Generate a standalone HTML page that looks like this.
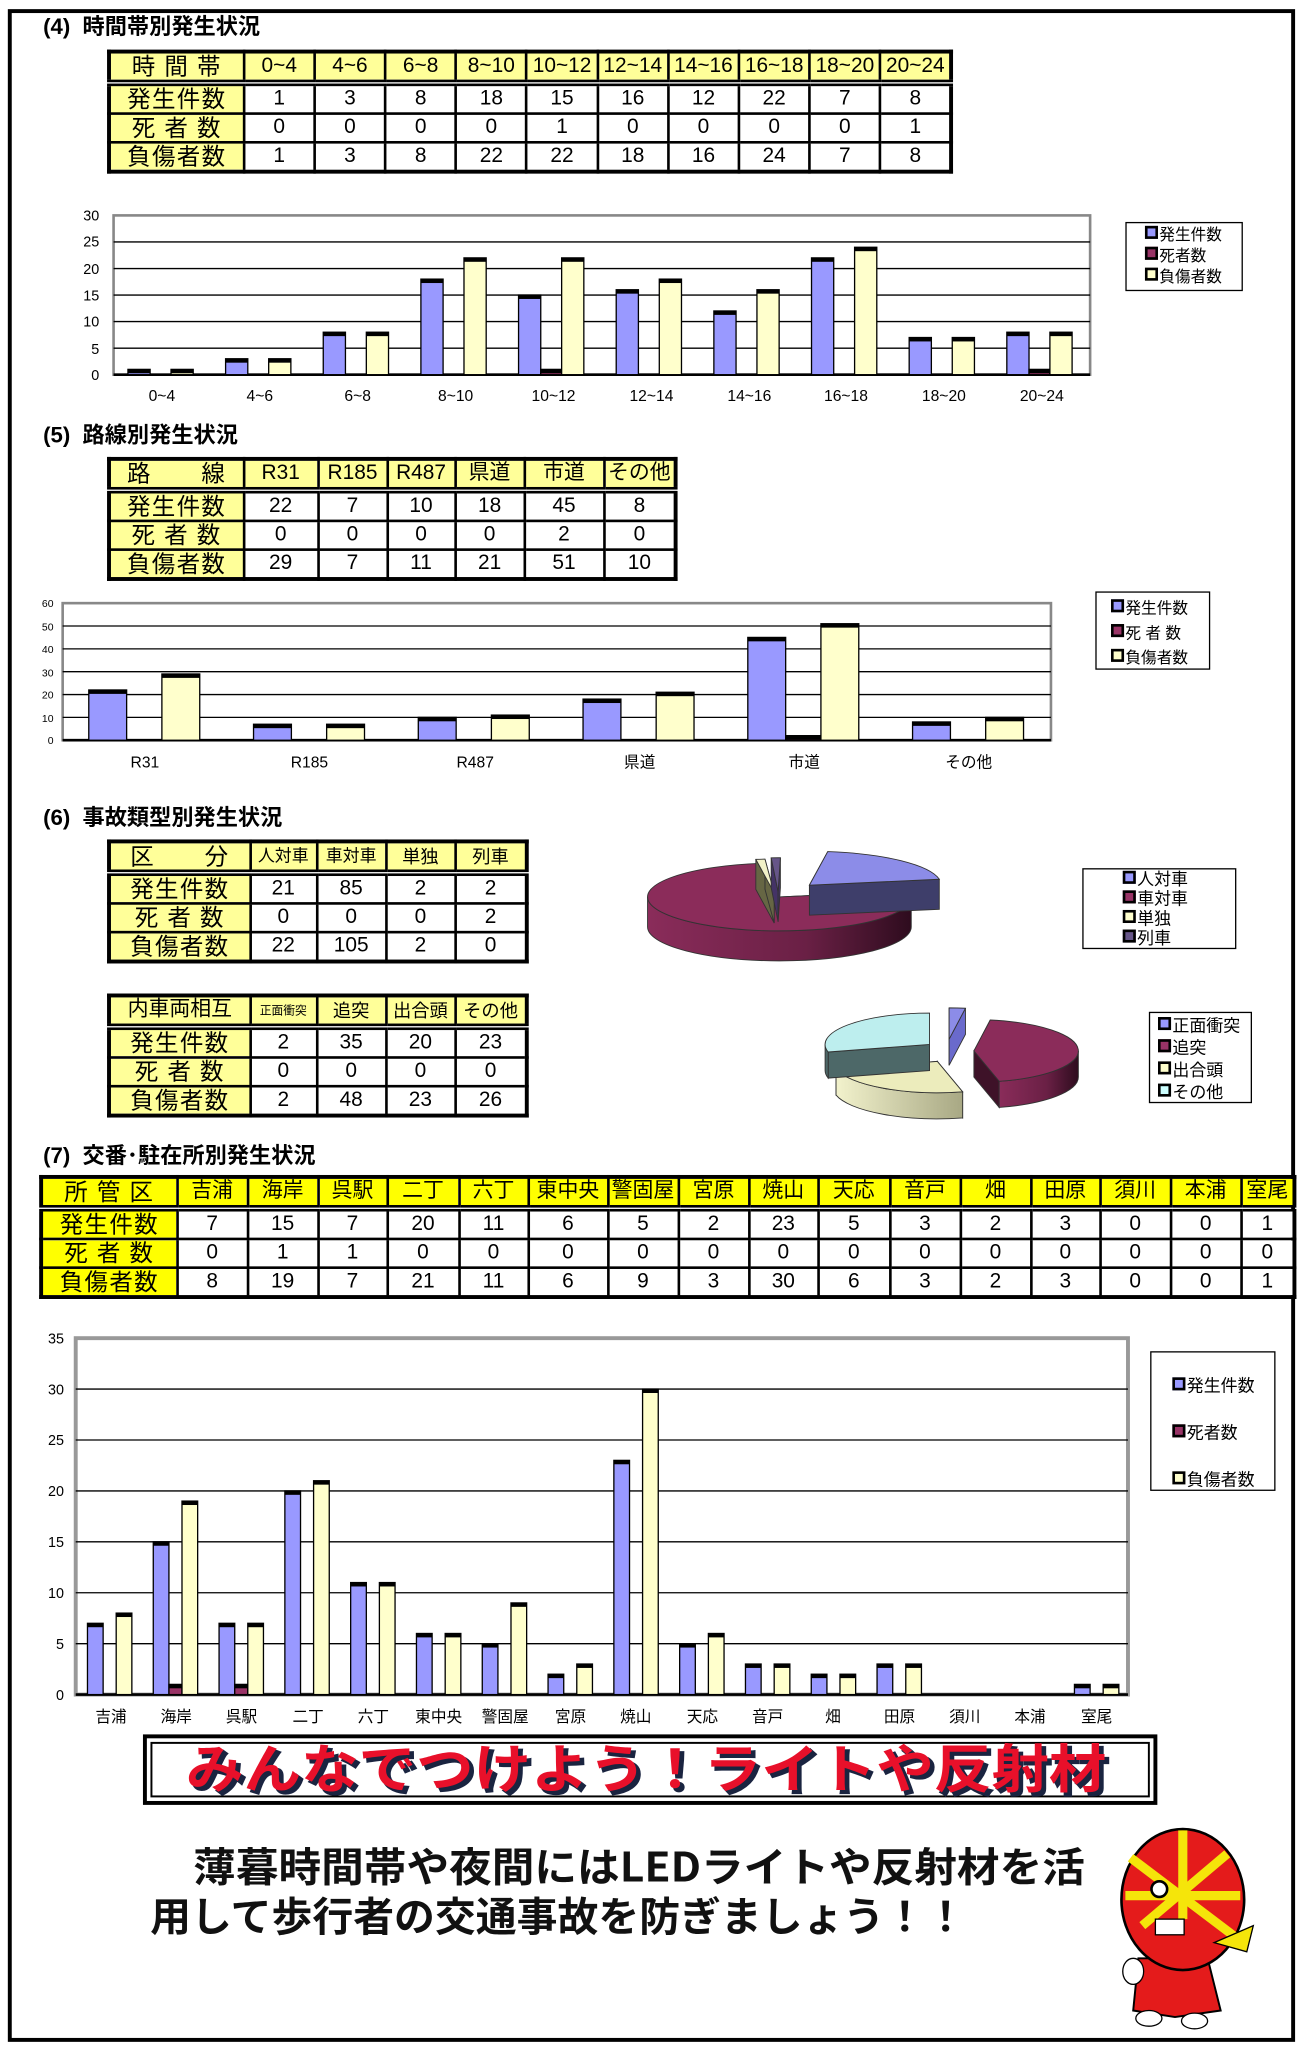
<!DOCTYPE html>
<html><head><meta charset="utf-8">
<style>
html,body{margin:0;padding:0;background:#fff;}
body{width:1299px;height:2049px;overflow:hidden;position:relative;}
#w{position:absolute;left:0;top:0;width:995px;height:1569px;transform:scale(1.30553);transform-origin:0 0;font-family:"Liberation Sans","Noto Sans CJK JP",sans-serif;}
.frame{position:absolute;left:6px;top:7px;width:980px;height:1551px;border:3px solid #000;}
.h{position:absolute;font-weight:bold;font-size:17px;line-height:20px;white-space:nowrap;}
table.t{position:absolute;border-collapse:collapse;border:3px solid #000;table-layout:fixed;}
table.t td{border:2px solid #000;background:#fff;text-align:center;padding:0;font-size:16px;line-height:18px;height:20px;white-space:nowrap;overflow:hidden;}
table.t td.y{background:#ffff99;}
table.t td.k{background:#ffff99;font-size:18px;letter-spacing:1px;}
table.t tr.hd td{border-bottom:5px double #000;background:#ffff99;}
table.t2 td.y{background:#ffff00;}
table.t2 td.k{background:#ffff00;}
table.t2 tr.hd td{background:#ffff00;}
svg{position:absolute;left:0;top:0;}
svg text{font-family:"Liberation Sans","Noto Sans CJK JP",sans-serif;}
.lg{position:absolute;border:1px solid #000;background:#fff;font-size:12px;line-height:16px;}
.lg span{display:inline-block;width:6px;height:6px;border:2px solid #000;margin-right:1px;vertical-align:1px;}
</style></head><body><div id="w">
<div class="frame"></div>

<div class="h" style="left:33px;top:11px;">(4)&nbsp; 時間帯別発生状況</div>
<table class="t" style="left:82px;top:38px;width:648px;">
<colgroup><col style="width:103px"><col span="10" style="width:54px"></colgroup>
<tr class="hd"><td class="k">時 間 帯</td><td class="y">0~4</td><td class="y">4~6</td><td class="y">6~8</td><td class="y">8~10</td><td class="y">10~12</td><td class="y">12~14</td><td class="y">14~16</td><td class="y">16~18</td><td class="y">18~20</td><td class="y">20~24</td></tr>
<tr><td class="k">発生件数</td><td>1</td><td>3</td><td>8</td><td>18</td><td>15</td><td>16</td><td>12</td><td>22</td><td>7</td><td>8</td></tr>
<tr><td class="k">死 者 数</td><td>0</td><td>0</td><td>0</td><td>0</td><td>1</td><td>0</td><td>0</td><td>0</td><td>0</td><td>1</td></tr>
<tr><td class="k">負傷者数</td><td>1</td><td>3</td><td>8</td><td>22</td><td>22</td><td>18</td><td>16</td><td>24</td><td>7</td><td>8</td></tr>
</table>

<div class="h" style="left:33px;top:324px;">(5)&nbsp; 路線別発生状況</div>
<table class="t" style="left:82px;top:350px;width:434px;">
<colgroup><col style="width:103px"><col style="width:57px"><col style="width:53px"><col style="width:52px"><col style="width:53px"><col style="width:61px"><col style="width:55px"></colgroup>
<tr class="hd"><td class="k">路　　線</td><td class="y">R31</td><td class="y">R185</td><td class="y">R487</td><td class="y">県道</td><td class="y">市道</td><td class="y">その他</td></tr>
<tr><td class="k">発生件数</td><td>22</td><td>7</td><td>10</td><td>18</td><td>45</td><td>8</td></tr>
<tr><td class="k">死 者 数</td><td>0</td><td>0</td><td>0</td><td>0</td><td>2</td><td>0</td></tr>
<tr><td class="k">負傷者数</td><td>29</td><td>7</td><td>11</td><td>21</td><td>51</td><td>10</td></tr>
</table>

<div class="h" style="left:33px;top:617px;">(6)&nbsp; 事故類型別発生状況</div>
<table class="t" style="left:82px;top:643px;width:320px;">
<colgroup><col style="width:108px"><col style="width:51px"><col style="width:53px"><col style="width:53px"><col style="width:55px"></colgroup>
<tr class="hd"><td class="k">区　　分</td><td class="y" style="font-size:13px">人対車</td><td class="y" style="font-size:13px">車対車</td><td class="y" style="font-size:14px">単独</td><td class="y" style="font-size:14px">列車</td></tr>
<tr><td class="k">発生件数</td><td>21</td><td>85</td><td>2</td><td>2</td></tr>
<tr><td class="k">死 者 数</td><td>0</td><td>0</td><td>0</td><td>2</td></tr>
<tr><td class="k">負傷者数</td><td>22</td><td>105</td><td>2</td><td>0</td></tr>
</table>
<table class="t" style="left:82px;top:761px;width:320px;">
<colgroup><col style="width:108px"><col style="width:51px"><col style="width:53px"><col style="width:53px"><col style="width:55px"></colgroup>
<tr class="hd"><td class="k" style="font-size:16px;letter-spacing:0">内車両相互</td><td class="y" style="font-size:9px">正面衝突</td><td class="y" style="font-size:14px">追突</td><td class="y" style="font-size:14px">出合頭</td><td class="y" style="font-size:14px">その他</td></tr>
<tr><td class="k">発生件数</td><td>2</td><td>35</td><td>20</td><td>23</td></tr>
<tr><td class="k">死 者 数</td><td>0</td><td>0</td><td>0</td><td>0</td></tr>
<tr><td class="k">負傷者数</td><td>2</td><td>48</td><td>23</td><td>26</td></tr>
</table>

<div class="h" style="left:33px;top:876px;">(7)&nbsp; 交番･駐在所別発生状況</div>
<table class="t t2" style="left:30px;top:900px;width:960px;">
<colgroup><col style="width:104px"><col style="width:54px"><col style="width:54px"><col style="width:53px"><col style="width:55px"><col style="width:53px"><col style="width:61px"><col style="width:54px"><col style="width:54px"><col style="width:53px"><col style="width:55px"><col style="width:54px"><col style="width:54px"><col style="width:53px"><col style="width:54px"><col style="width:54px"><col style="width:41px"></colgroup>
<tr class="hd"><td class="k">所 管 区</td><td class="y">吉浦</td><td class="y">海岸</td><td class="y">呉駅</td><td class="y">二丁</td><td class="y">六丁</td><td class="y">東中央</td><td class="y">警固屋</td><td class="y">宮原</td><td class="y">焼山</td><td class="y">天応</td><td class="y">音戸</td><td class="y">畑</td><td class="y">田原</td><td class="y">須川</td><td class="y">本浦</td><td class="y">室尾</td></tr>
<tr><td class="k">発生件数</td><td>7</td><td>15</td><td>7</td><td>20</td><td>11</td><td>6</td><td>5</td><td>2</td><td>23</td><td>5</td><td>3</td><td>2</td><td>3</td><td>0</td><td>0</td><td>1</td></tr>
<tr><td class="k">死 者 数</td><td>0</td><td>1</td><td>1</td><td>0</td><td>0</td><td>0</td><td>0</td><td>0</td><td>0</td><td>0</td><td>0</td><td>0</td><td>0</td><td>0</td><td>0</td><td>0</td></tr>
<tr><td class="k">負傷者数</td><td>8</td><td>19</td><td>7</td><td>21</td><td>11</td><td>6</td><td>9</td><td>3</td><td>30</td><td>6</td><td>3</td><td>2</td><td>3</td><td>0</td><td>0</td><td>1</td></tr>
</table>

<svg id="sv" width="995" height="1569" viewBox="0 0 995 1569">
<defs>
<linearGradient id="gm" x1="0" x2="1"><stop offset="0" stop-color="#8a2c5a"/><stop offset="0.6" stop-color="#6a2045"/><stop offset="1" stop-color="#2e0c1e"/></linearGradient>
<linearGradient id="gc" x1="0" x2="1"><stop offset="0" stop-color="#f2f2cc"/><stop offset="1" stop-color="#a8a884"/></linearGradient>
</defs>
<g font-size="11" text-anchor="end">
<rect x="87" y="165" width="748" height="122" fill="#fff" stroke="#888" stroke-width="2"/>
<g stroke="#000" stroke-width="1"><line x1="87" y1="185.3" x2="835" y2="185.3"/><line x1="87" y1="205.7" x2="835" y2="205.7"/><line x1="87" y1="226" x2="835" y2="226"/><line x1="87" y1="246.3" x2="835" y2="246.3"/><line x1="87" y1="266.7" x2="835" y2="266.7"/><line x1="87" y1="287" x2="835" y2="287" stroke-width="2"/></g>
<text x="76" y="169">30</text><text x="76" y="189">25</text><text x="76" y="210">20</text><text x="76" y="230">15</text><text x="76" y="250">10</text><text x="76" y="271">5</text><text x="76" y="291">0</text>
</g>
<g font-size="12" text-anchor="middle">
<text x="124" y="307">0~4</text><text x="199" y="307">4~6</text><text x="274" y="307">6~8</text><text x="349" y="307">8~10</text><text x="424" y="307">10~12</text><text x="499" y="307">12~14</text><text x="574" y="307">14~16</text><text x="648" y="307">16~18</text><text x="723" y="307">18~20</text><text x="798" y="307">20~24</text>
</g>
<rect x="48" y="462" width="757" height="105" fill="#fff" stroke="#888" stroke-width="2"/>
<g stroke="#000" stroke-width="1"><line x1="48" y1="479.5" x2="805" y2="479.5"/><line x1="48" y1="497" x2="805" y2="497"/><line x1="48" y1="514.5" x2="805" y2="514.5"/><line x1="48" y1="532" x2="805" y2="532"/><line x1="48" y1="549.5" x2="805" y2="549.5"/><line x1="48" y1="567" x2="805" y2="567" stroke-width="2"/></g>
<g font-size="8" text-anchor="end"><text x="41" y="465">60</text><text x="41" y="483">50</text><text x="41" y="500">40</text><text x="41" y="518">30</text><text x="41" y="535">20</text><text x="41" y="553">10</text><text x="41" y="570">0</text></g>
<g font-size="12" text-anchor="middle"><text x="111" y="588">R31</text><text x="237" y="588">R185</text><text x="364" y="588">R487</text><text x="490" y="588">県道</text><text x="616" y="588">市道</text><text x="742" y="588">その他</text></g>
<rect x="58" y="1025" width="806" height="273" fill="#fff" stroke="#999" stroke-width="3"/>
<g stroke="#000" stroke-width="1"><line x1="58" y1="1064" x2="864" y2="1064"/><line x1="58" y1="1103" x2="864" y2="1103"/><line x1="58" y1="1142" x2="864" y2="1142"/><line x1="58" y1="1181" x2="864" y2="1181"/><line x1="58" y1="1220" x2="864" y2="1220"/><line x1="58" y1="1259" x2="864" y2="1259"/><line x1="58" y1="1298" x2="864" y2="1298" stroke-width="2"/></g>
<g font-size="11" text-anchor="end"><text x="49" y="1029">35</text><text x="49" y="1068">30</text><text x="49" y="1107">25</text><text x="49" y="1146">20</text><text x="49" y="1185">15</text><text x="49" y="1224">10</text><text x="49" y="1263">5</text><text x="49" y="1302">0</text></g>
<g font-size="12" text-anchor="middle"><text x="85" y="1319">吉浦</text><text x="135" y="1319">海岸</text><text x="185" y="1319">呉駅</text><text x="236" y="1319">二丁</text><text x="286" y="1319">六丁</text><text x="336" y="1319">東中央</text><text x="387" y="1319">警固屋</text><text x="437" y="1319">宮原</text><text x="487" y="1319">焼山</text><text x="538" y="1319">天応</text><text x="588" y="1319">音戸</text><text x="638" y="1319">畑</text><text x="689" y="1319">田原</text><text x="739" y="1319">須川</text><text x="789" y="1319">本浦</text><text x="840" y="1319">室尾</text></g>
<g id="bars"></g>
<g id="pies"></g>
<rect x="111" y="1330" width="774" height="51" fill="#fff" stroke="#000" stroke-width="3"/>
<rect x="116" y="1335" width="764" height="41" fill="none" stroke="#000" stroke-width="1.5"/>
<text x="498" y="1372" text-anchor="middle" font-size="40" font-weight="bold" fill="#1a2440" stroke="#1a2440" stroke-width="1" textLength="705" lengthAdjust="spacingAndGlyphs" style="font-family:'Noto Sans CJK JP',sans-serif">みんなでつけよう！ライトや反射材</text>
<text x="495" y="1369" text-anchor="middle" font-size="40" font-weight="bold" fill="#e8102a" textLength="705" lengthAdjust="spacingAndGlyphs" style="font-family:'Noto Sans CJK JP',sans-serif">みんなでつけよう！ライトや反射材</text>
<text x="148" y="1441" font-size="31" font-weight="bold" fill="#111" textLength="683" lengthAdjust="spacingAndGlyphs" style="font-family:'Noto Sans CJK JP',sans-serif">薄暮時間帯や夜間にはLEDライトや反射材を活</text>
<text x="115" y="1479" font-size="31" font-weight="bold" fill="#111" textLength="625" lengthAdjust="spacingAndGlyphs" style="font-family:'Noto Sans CJK JP',sans-serif">用して歩行者の交通事故を防ぎましょう！！</text>
<g>
<path d="M872 1500 L868 1540 L900 1545 L935 1540 L925 1500 Z" fill="#e41b1b" stroke="#000" stroke-width="1.5"/>
<ellipse cx="906" cy="1455" rx="47" ry="54" fill="#e41b1b" stroke="#000" stroke-width="2"/>
<g stroke="#f5e50a" stroke-width="7" fill="none"><line x1="866" y1="1423" x2="948" y2="1485"/><line x1="875" y1="1475" x2="940" y2="1420"/><line x1="906" y1="1402" x2="906" y2="1470"/><line x1="862" y1="1452" x2="950" y2="1452"/></g>
<circle cx="888" cy="1447" r="6" fill="#fff" stroke="#000" stroke-width="2"/>
<rect x="885" y="1470" width="22" height="12" fill="#fff" stroke="#000"/>
<path d="M930 1488 L960 1475 L955 1495 Z" fill="#f5e50a" stroke="#000"/>
<ellipse cx="868" cy="1510" rx="8" ry="10" fill="#fff" stroke="#000"/>
<ellipse cx="880" cy="1546" rx="10" ry="6" fill="#fff" stroke="#000"/><ellipse cx="915" cy="1548" rx="10" ry="6" fill="#fff" stroke="#000"/>
</g>
</svg>

<div class="lg" style="left:862px;top:170px;width:90px;height:53px;padding:1px 0 0 14px;box-sizing:border-box;"><span style="background:#9999ff"></span>発生件数<br><span style="background:#993366"></span>死者数<br><span style="background:#ffffcc"></span>負傷者数</div>
<div class="lg" style="left:839px;top:453px;width:88px;height:60px;padding:3px 0 0 11px;box-sizing:border-box;line-height:19px;"><span style="background:#9999ff"></span>発生件数<br><span style="background:#993366"></span>死 者 数<br><span style="background:#ffffcc"></span>負傷者数</div>
<div class="lg" style="left:829px;top:665px;width:118px;height:62px;padding:0 0 0 30px;box-sizing:border-box;line-height:15px;font-size:13px;"><span style="background:#9999ff"></span>人対車<br><span style="background:#993366"></span>車対車<br><span style="background:#ffffcc"></span>単独<br><span style="background:#665588"></span>列車</div>
<div class="lg" style="left:880px;top:775px;width:79px;height:70px;padding:1px 0 0 6px;box-sizing:border-box;line-height:17px;font-size:13px;"><span style="background:#9999ff"></span>正面衝突<br><span style="background:#993366"></span>追突<br><span style="background:#ffffcc"></span>出合頭<br><span style="background:#ccffff"></span>その他</div>
<div class="lg" style="left:881px;top:1035px;width:96px;height:107px;padding:8px 0 0 16px;box-sizing:border-box;line-height:36px;font-size:13px;"><span style="background:#9999ff"></span>発生件数<br><span style="background:#993366"></span>死者数<br><span style="background:#ffffcc"></span>負傷者数</div>
</div>
<script>
(function(){
var NS="http://www.w3.org/2000/svg";
var g=document.getElementById("bars");
function r(x,y,w,h,f){if(h<=0)return;var e=document.createElementNS(NS,"rect");e.setAttribute("x",x);e.setAttribute("y",y);e.setAttribute("width",w);e.setAttribute("height",h);e.setAttribute("fill",f);e.setAttribute("stroke","#000");e.setAttribute("stroke-width","1");g.appendChild(e);
var c=document.createElementNS(NS,"rect");c.setAttribute("x",x);c.setAttribute("y",y);c.setAttribute("width",w);c.setAttribute("height",Math.min(3,h));c.setAttribute("fill","#000");g.appendChild(c);}
function chart(A,D,I,x0,gw,ob,orr,oy,w,wr,y0,s){for(var i=0;i<A.length;i++){var gx=x0+gw*i;
r(gx+ob,y0-A[i]*s,w,A[i]*s,"#9999ff");r(gx+orr,y0-D[i]*s,wr,D[i]*s,"#993366");r(gx+oy,y0-I[i]*s,w,I[i]*s,"#ffffcc");}}
chart([1,3,8,18,15,16,12,22,7,8],[0,0,0,0,1,0,0,0,0,1],[1,3,8,22,22,18,16,24,7,8],87,74.8,11,28,44,17,16,287,122/30);
chart([22,7,10,18,45,8],[0,0,0,0,2,0],[29,7,11,21,51,10],48,126.2,20,49,76,29,27,567,105/60);
chart([7,15,7,20,11,6,5,2,23,5,3,2,3,0,0,1],[0,1,1,0,0,0,0,0,0,0,0,0,0,0,0,0],[8,19,7,21,11,6,9,3,30,6,3,2,3,0,0,1],58,50.4,9,21,31,12,10,1298,273/35);
var p=document.getElementById("pies");
function P(cx,cy,rx,ry,a){a=a*Math.PI/180;return [cx+rx*Math.cos(a),cy+ry*Math.sin(a)];}
function slice(cx,cy,rx,ry,d,a0,a1,top,side,edge){
 var A=P(cx,cy,rx,ry,a0),B=P(cx,cy,rx,ry,a1);
 var lo=Math.max(a0,0),hi=Math.min(a1,180);
 function add(dstr,f){var e=document.createElementNS(NS,"path");e.setAttribute("d",dstr);e.setAttribute("fill",f);e.setAttribute("stroke","#333");e.setAttribute("stroke-width","0.7");p.appendChild(e);}
 if(edge){add("M"+cx+" "+cy+" L"+A[0]+" "+A[1]+" L"+A[0]+" "+(A[1]+d)+" L"+cx+" "+(cy+d)+"Z",edge);
 add("M"+cx+" "+cy+" L"+B[0]+" "+B[1]+" L"+B[0]+" "+(B[1]+d)+" L"+cx+" "+(cy+d)+"Z",edge);}
 if(hi>lo){var L=P(cx,cy,rx,ry,lo),H=P(cx,cy,rx,ry,hi);
 add("M"+L[0]+" "+L[1]+" A"+rx+" "+ry+" 0 0 1 "+H[0]+" "+H[1]+" L"+H[0]+" "+(H[1]+d)+" A"+rx+" "+ry+" 0 0 0 "+L[0]+" "+(L[1]+d)+"Z",side);}
 var lg=(a1-a0)>180?1:0;
 add("M"+cx+" "+cy+" L"+A[0]+" "+A[1]+" A"+rx+" "+ry+" 0 "+lg+" 1 "+B[0]+" "+B[1]+"Z",top);
}
slice(597,687,101,26,23,-10,262,"#8b2c5a","url(#gm)","#5a1c3a");
slice(593,684,101,26,23,262,266,"#f2f2c8","#777755","#666644");
slice(596,683,101,26,23,267,271,"#665588","#443366","#443366");
slice(620,678,101,26,23,-82,-10,"#8c8ce8","#3e3e6a","#3e3e6a");
slice(746,805,80,24,20,-81,76,"#8b2c5a","url(#gm)","#3e1228");
slice(718,813,80,24,20,76,166,"#ececbc","url(#gc)","#bcbc98");
slice(712,800,80,24,20,166,270,"#bdeeee","#4d6868","#4d6868");
slice(727,796,80,24,20,270,279,"#8c8ce8","#6a6acc","#6a6acc");
})();
</script>
</body></html>
